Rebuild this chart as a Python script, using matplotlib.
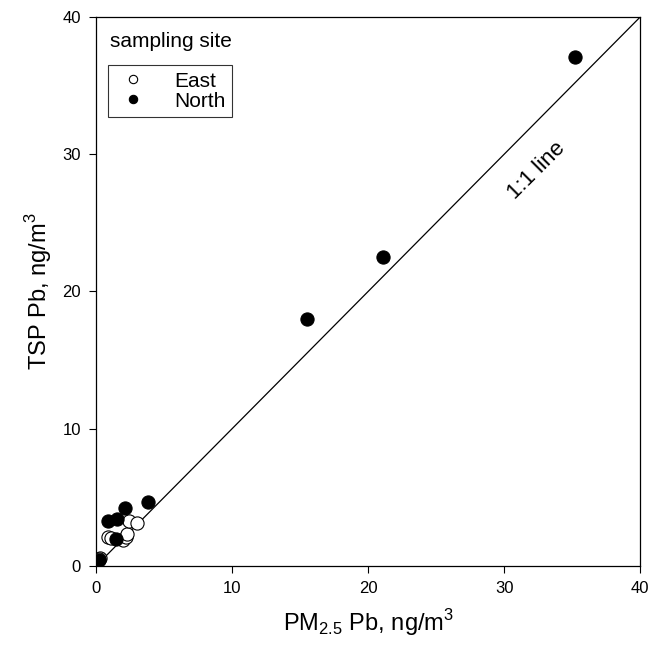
import matplotlib
matplotlib.use("Agg")
import matplotlib.pyplot as plt
from matplotlib.lines import Line2D

plt.rcParams['font.family'] = ['Liberation Sans', 'DejaVu Sans']
plt.rcParams['mathtext.fontset'] = 'custom'
plt.rcParams['mathtext.rm'] = 'Liberation Sans'

# PM2.5 Pb vs TSP Pb, ng/m3
east_pm = [0.3, 0.9, 1.1, 2.0, 2.2, 2.3, 2.4, 3.0, 0.2]
east_tsp = [0.6, 2.1, 2.0, 1.9, 2.1, 2.35, 3.25, 3.15, 0.5]
north_pm = [0.2, 0.85, 1.55, 1.45, 2.15, 3.85, 15.5, 21.1, 35.2]
north_tsp = [0.4, 3.3, 3.4, 1.95, 4.25, 4.65, 18.0, 22.5, 37.1]

fig = plt.figure(figsize=(6.58, 6.52), dpi=100)
ax = fig.add_axes([0.146, 0.132, 0.827, 0.842])

ax.plot([0, 40], [0, 40], color='black', lw=0.9, zorder=1)
ax.scatter(east_pm, east_tsp, s=90, facecolor='white', edgecolor='black',
           linewidth=0.8, zorder=3)
ax.scatter(north_pm, north_tsp, s=90, facecolor='black', edgecolor='black',
           linewidth=0.8, zorder=4)

ax.text(32.4, 28.8, '1:1 line', rotation=45, fontsize=16,
        ha='center', va='center', rotation_mode='anchor')

ax.set_xlim(0, 40)
ax.set_ylim(0, 40)
ax.set_xticks([0, 10, 20, 30, 40])
ax.set_yticks([0, 10, 20, 30, 40])
ax.tick_params(direction='out', length=5, width=0.8, labelsize=12,
               colors='black', pad=6)
for sp in ax.spines.values():
    sp.set_linewidth(0.9)

ax.set_xlabel(r'PM$_{\mathrm{2.5}}$ Pb, ng/m$^{\mathrm{3}}$', fontsize=17, labelpad=8)
ax.set_ylabel(r'TSP Pb, ng/m$^{\mathrm{3}}$', fontsize=17, labelpad=6)

ax.text(0.025, 0.955, 'sampling site', transform=ax.transAxes,
        fontsize=15, ha='left', va='center')
handles = [
    Line2D([], [], ls='', marker='o', ms=6, mfc='white', mec='black', mew=0.8),
    Line2D([], [], ls='', marker='o', ms=6, mfc='black', mec='black', mew=0.8),
]
leg = ax.legend(handles, ['East', 'North'], loc='upper left',
                bbox_to_anchor=(0.022, 0.912), fontsize=15, frameon=True,
                fancybox=False, edgecolor='black', borderpad=0.3,
                handletextpad=1.1, handlelength=1.8, labelspacing=0.05,
                borderaxespad=0)
leg.get_frame().set_linewidth(0.8)

fig.savefig('out.png', dpi=100)
